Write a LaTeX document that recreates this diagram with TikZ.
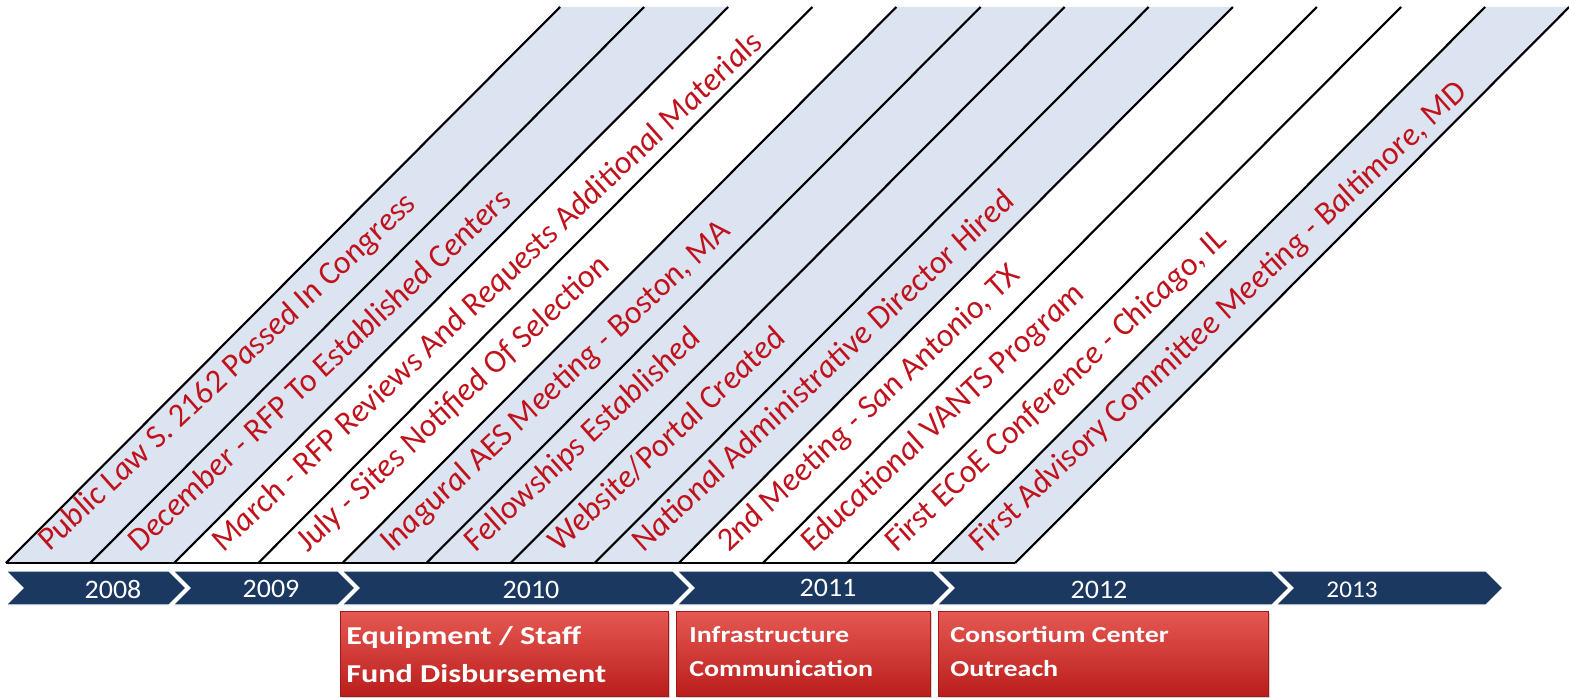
\documentclass[tikz,border=0pt]{standalone}
\usepackage{fontspec}
\setmainfont{Carlito}
\usetikzlibrary{shadows}
\definecolor{bandblue}{RGB}{219,228,240}
\definecolor{textred}{RGB}{192,18,28}
\definecolor{navy}{RGB}{26,56,96}
\definecolor{boxtop}{RGB}{230,88,82}
\definecolor{boxbot}{RGB}{186,30,28}
\definecolor{boxedge}{RGB}{160,25,25}
\begin{document}
\begin{tikzpicture}[x=0.75pt,y=-0.75pt,
  bandline/.style={black, line width=1.6pt},
  bandtxt/.style={anchor=base west, inner sep=0pt, xscale=1.1, rotate=46, text=textred,
    font=\fontsize{23.5}{28}\selectfont\itshape},
  yearseg/.style={fill=navy, draw=white, line width=1pt},
  yeartxt/.style={text=white, inner sep=0pt, xscale=1.05, font=\fontsize{20}{24}\selectfont},
  redbox/.style={top color=boxtop, bottom color=boxbot, draw=boxedge, line width=0.6pt,
    anchor=north west, inner sep=0pt, minimum height=63.75pt,
    drop shadow={shadow xshift=1.5pt, shadow yshift=-1.5pt, opacity=0.35}},
  boxtxt/.style={anchor=base west, inner sep=0pt, text=white, font=\bfseries}
]
\useasboundingbox (0,0) rectangle (1569,698);
% bands
\foreach \i/\f in {0/1,1/1,2/0,3/0,4/1,5/1,6/1,7/1,8/0,9/0,10/0,11/1}{
  \ifnum\f=1
    \fill[bandblue] ({6+84.1*\i},563) -- ({6+84.1*(\i+1)},563) -- ({560+84.1*(\i+1)},7) -- ({560+84.1*\i},7) -- cycle;
  \fi
}
\foreach \i in {0,...,12}{
  \draw[bandline] ({6+84.1*\i},563) -- ({560+84.1*\i},7);
}
\draw[bandline] (6,563) -- (1015.2,563);
% band texts
\node[bandtxt] (t0) at (50,552) {Public Law S. 2162 Passed In Congress};
\node[bandtxt] (t1) at ({56+84.1*1},553) {December - RFP To Established Centers};
\node[bandtxt] (t2) at ({56+84.1*2},553) {March - RFP Reviews And Requests Additional Materials};
\node[bandtxt] (t3) at ({56+84.1*3},553) {July - Sites Notified Of Selection};
\node[bandtxt] (t4) at ({56+84.1*4},553) {Inagural AES Meeting - Boston, MA};
\node[bandtxt] (t5) at ({56+84.1*5},553) {Fellowships Established};
\node[bandtxt] (t6) at ({56+84.1*6},553) {Website/Portal Created};
\node[bandtxt] (t7) at ({56+84.1*7},553) {National Administrative Director Hired};
\node[bandtxt] (t8) at ({56+84.1*8},553) {2nd Meeting - San Antonio, TX};
\node[bandtxt] (t9) at ({56+84.1*9},553) {Educational VANTS Program};
\node[bandtxt] (t10) at ({56+84.1*10},553) {First ECoE Conference - Chicago, IL};
\node[bandtxt] (t11) at ({56+84.1*11},553) {First Advisory Committee Meeting - Baltimore, MD};
% timeline chevrons
\foreach \l/\r in {6/169,173/338,342/673,677/933,937/1272,1276/1486}{
  \draw[yearseg] (\l,571) -- (\r,571) -- ({\r+17},588) -- (\r,605) -- (\l,605) -- ({\l+17},588) -- cycle;
}
\node[yeartxt] (y2008) at (113,589) {2008};
\node[yeartxt] (y2009) at (271,589) {2009};
\node[yeartxt] (y2010) at (531,590) {2010};
\node[yeartxt] (y2011) at (828,588) {2011};
\node[yeartxt] (y2012) at (1099,590) {2012};
\node[yeartxt, font=\fontsize{18}{22}\selectfont] (y2013) at (1352,590) {2013};
% red boxes
\node[redbox, minimum width=246pt] (b1) at (340,611) {};
\node[redbox, minimum width=190.5pt] (b2) at (676,611) {};
\node[redbox, minimum width=247.5pt] (b3) at (938,611) {};
\begin{scope}[every node/.append style={xscale=1.25}]
\node[boxtxt, font=\fontsize{19.3}{23}\selectfont\bfseries] (b1a) at (346,644) {Equipment / Staff};
\node[boxtxt, font=\fontsize{19.3}{23}\selectfont\bfseries] (b1b) at (346,682) {Fund Disbursement};
\end{scope}
\begin{scope}[every node/.append style={xscale=1.22}]
\node[boxtxt, font=\fontsize{17.2}{20}\selectfont\bfseries] (b2a) at (689,642) {Infrastructure};
\node[boxtxt, font=\fontsize{17.2}{20}\selectfont\bfseries] (b2b) at (689,676) {Communication};
\node[boxtxt, font=\fontsize{17.2}{20}\selectfont\bfseries] (b3a) at (950,642) {Consortium Center};
\node[boxtxt, font=\fontsize{17.2}{20}\selectfont\bfseries] (b3b) at (950,676) {Outreach};
\end{scope}
\end{tikzpicture}
\end{document}
